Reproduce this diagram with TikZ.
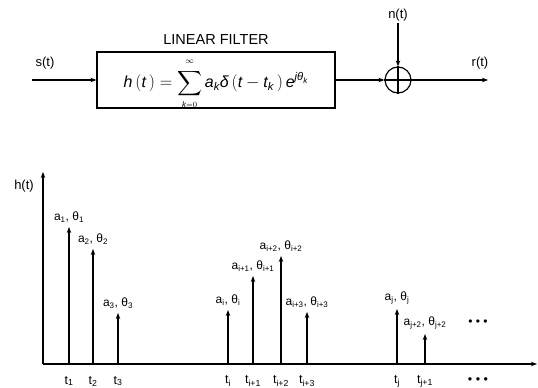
\documentclass[tikz,border=0pt]{standalone}
\usepackage{amsmath}
\usepackage{fontspec}
\setmainfont{Liberation Sans}
\usetikzlibrary{positioning, arrows.meta}

\begin{document}
\begin{tikzpicture}[
			x=1pt, y=-1pt,
			>={Stealth[length=6pt, width=4.5pt]},
			line width=1.1pt,
			filterbox/.style={
				draw, line width=1.2pt, minimum width=238pt, minimum height=56pt, inner sep=0pt
			},
			sumnode/.style={draw, circle, line width=1.2pt, minimum size=26pt, inner sep=0pt},
			sig/.style={font=\fontsize{13}{15}\selectfont, inner sep=1pt},
			lbl/.style={font=\fontsize{12}{14}\selectfont, inner sep=1pt},
			ticklbl/.style={font=\fontsize{12.5}{14}\selectfont, inner sep=1pt},
			spike/.style={->, line width=1.4pt}
			]
			\useasboundingbox (0,0) rectangle (538,388);
			
			% 1. FILTER CHAIN (Top)
			\node[filterbox] (filter) at (216,80) {};
			\node[font=\fontsize{16}{18}\selectfont, inner sep=0pt] (eq) at (216,84)
				{$\textit{h}\,(\textit{t}\,) = \displaystyle\sum_{\scriptscriptstyle\textit{k}=0}^{\raisebox{2pt}{$\scriptscriptstyle\infty$}} \textit{a}_{\textit{k}}\textit{δ}\,(\textit{t} - \textit{t}_{\textit{k}}\,)\,\textit{e}^{\textit{jθ}_{\textit{k}}}$};
			\node[above=3pt of filter, font=\fontsize{14.5}{16}\selectfont] (title) {LINEAR FILTER};
			
			\coordinate (sin) at (32,80);
			\node[sig] (slbl) at (45,63) {s(t)};
			\draw[->] (sin) -- (filter.west);
			
			\node[sumnode] (sum) at (398,80) {};
			\draw (sum.north) -- (sum.south) (sum.west) -- (sum.east);
			\draw[->] (filter.east) -- (sum.west);
			
			\node[sig] (noise) at (398,15) {n(t)};
			\draw[->] (noise.south) -- (sum.north);
			
			\coordinate (rout) at (488,80);
			\node[sig] (rlbl) at (480,63) {r(t)};
			\draw[->] (sum.east) -- (rout);
			
			% 2. IMPULSE RESPONSE (Bottom)
			\coordinate (origin) at (43,364);
			\coordinate (ytop) at (43,172);
			\coordinate (xend) at (537,364);
			\draw[->] (origin) -- (ytop);
			\draw[->] (origin) -- (xend);
			\node[sig] (hlbl) at (24,186) {h(t)};
			
			\foreach \x/\top/\amp/\tick [count=\n] in {69/227/1/1, 93/249/2/2, 118/313/3/3,
				228/310/i/i, 253/276/i+1/i+1, 281/256/i+2/i+2, 307/312/i+3/i+3,
				397/309/j/j, 425/334/j+2/j+1} {
				\coordinate (base\n) at (\x,364);
				\coordinate (peak\n) at (\x,\top);
				\draw[spike] (base\n) -- (peak\n);
				\node[lbl, above=3pt of peak\n] (amp\n) {a\textsubscript{\amp}, θ\textsubscript{\amp}};
				\node[ticklbl] (tick\n) at (\x,381) {t\textsubscript{\tick}};
			}
			
			\node[lbl] (moreamp) at (478,323) {• • •};
			\node[ticklbl] (moretick) at (478,381) {• • •};
		\end{tikzpicture}
\end{document}
